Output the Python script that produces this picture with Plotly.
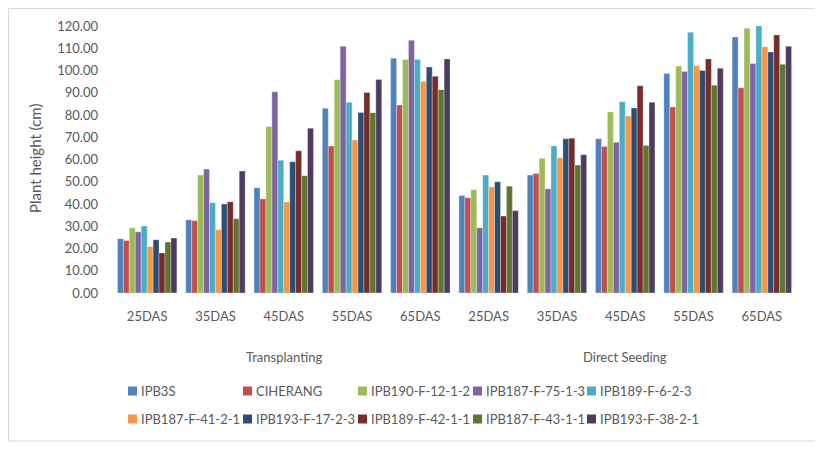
import plotly.graph_objects as go

methods = ["Transplanting", "Direct Seeding"]
days = ["25DAS", "35DAS", "45DAS", "55DAS", "65DAS"]
varieties = ["IPB3S", "CIHERANG", "IPB190-F-12-1-2", "IPB187-F-75-1-3", "IPB189-F-6-2-3",
             "IPB187-F-41-2-1", "IPB193-F-17-2-3", "IPB189-F-42-1-1", "IPB187-F-43-1-1", "IPB193-F-38-2-1"]
colors = ["#4F81BD", "#C0504D", "#9BBB59", "#8064A2", "#4BACC6",
          "#F79646", "#2C4D75", "#772C2A", "#5F7530", "#4D3B62"]

# values: Transplanting 25..65 DAS, then Direct Seeding 25..65 DAS
ipb3s     = [24.4, 32.9, 47.3, 83.0, 105.5, 43.8, 53.0, 69.3, 98.6, 115.1]
ciherang  = [23.6, 32.5, 42.3, 66.1, 84.5, 42.8, 53.7, 65.8, 83.6, 92.2]
ipb190_12 = [29.3, 53.0, 74.8, 95.8, 104.9, 46.4, 60.6, 81.4, 102.0, 119.0]
ipb187_75 = [27.5, 55.7, 90.4, 110.9, 113.6, 29.3, 46.8, 67.8, 99.5, 103.2]
ipb189_6  = [30.1, 40.6, 59.7, 85.7, 105.0, 53.0, 66.1, 85.9, 117.2, 120.0]
ipb187_41 = [20.9, 28.4, 40.9, 68.8, 95.2, 47.7, 60.8, 79.6, 102.3, 110.7]
ipb193_17 = [23.9, 40.0, 59.0, 81.1, 101.6, 50.0, 69.3, 83.2, 100.0, 108.3]
ipb189_42 = [18.0, 41.0, 63.9, 90.1, 97.4, 34.6, 69.6, 93.1, 105.2, 116.0]
ipb187_43 = [22.9, 33.4, 52.7, 81.0, 91.4, 48.0, 57.5, 66.3, 93.4, 102.8]
ipb193_38 = [24.7, 54.8, 74.1, 95.9, 105.2, 37.0, 62.1, 85.7, 101.0, 110.9]
series = [ipb3s, ciherang, ipb190_12, ipb187_75, ipb189_6,
          ipb187_41, ipb193_17, ipb189_42, ipb187_43, ipb193_38]

y_ticks = [0, 10, 20, 30, 40, 50, 60, 70, 80, 90, 100, 110, 120]

cats = [f"{m} {d}" for m in methods for d in days]
tick_text = [d for m in methods for d in days]

FONT = "Lato"
TXT = "#595959"

fig = go.Figure()
for name, vals, col in zip(varieties, series, colors):
    fig.add_trace(go.Bar(
        x=cats, y=vals, name=name, showlegend=False,
        marker=dict(color=col, line=dict(color="rgba(255,255,255,0.6)", width=0.5)),
    ))

# the page offsets the figure by 8px (body margin); layout is given in page pixels
OFF = 8
W, H = 823 - OFF, 451 - OFF
L, R, T = 113 - OFF, 27, 26 - OFF
B = H - (293 - OFF)
pw, ph = W - L - R, H - T - B

def px_x(x):
    return (x - OFF - L) / pw

def px_y(y):
    return (H - B - (y - OFF)) / ph

annotations = [
    dict(text="Plant height (cm)", x=px_x(35), y=px_y(159), xref="paper", yref="paper",
         textangle=-90, showarrow=False, font=dict(family=FONT, size=15, color=TXT),
         xanchor="center", yanchor="middle"),
    dict(text=methods[0], x=cats[2], y=px_y(357), xref="x", yref="paper",
         showarrow=False, font=dict(family=FONT, size=13, color=TXT),
         xanchor="center", yanchor="middle"),
    dict(text=methods[1], x=cats[7], y=px_y(357), xref="x", yref="paper",
         showarrow=False, font=dict(family=FONT, size=13, color=TXT),
         xanchor="center", yanchor="middle"),
]

shapes = [dict(type="rect", xref="paper", yref="paper",
               x0=px_x(8.5), x1=px_x(815.5), y0=px_y(441), y1=px_y(8.5),
               line=dict(color="#D9D9D9", width=1), fillcolor="rgba(0,0,0,0)", layer="below")]

# legend (5 entries per row)
col_x = [128, 243, 358, 473, 587]
row_y = [391, 419]
sq = 9
for i, (name, col) in enumerate(zip(varieties, colors)):
    cx = col_x[i % 5]
    cy = row_y[i // 5]
    shapes.append(dict(type="rect", xref="paper", yref="paper",
                       x0=px_x(cx), x1=px_x(cx + sq), y0=px_y(cy + sq / 2), y1=px_y(cy - sq / 2),
                       line=dict(width=0), fillcolor=col))
    annotations.append(dict(text=name, x=px_x(cx + sq + 2), y=px_y(cy), xref="paper", yref="paper",
                            showarrow=False, xanchor="left", yanchor="middle",
                            font=dict(family=FONT, size=13, color=TXT)))

fig.update_layout(
    width=W, height=H,
    margin=dict(l=L, r=R, t=T, b=B, autoexpand=False),
    paper_bgcolor="white", plot_bgcolor="white",
    barmode="group", bargap=0.13, bargroupgap=0,
    showlegend=False,
    font=dict(family=FONT, size=13, color=TXT),
    xaxis=dict(type="category", tickvals=cats, ticktext=tick_text, showgrid=False,
               showline=False, zeroline=False, ticks="", ticklabelstandoff=14,
               tickfont=dict(family=FONT, size=13, color=TXT)),
    yaxis=dict(range=[0, 120], tickvals=y_ticks, ticktext=[f"{v:.2f}" for v in y_ticks],
               showgrid=False, showline=False, zeroline=False, ticks="",
               ticklabelstandoff=14, tickfont=dict(family=FONT, size=13, color=TXT)),
    annotations=annotations,
    shapes=shapes,
)

fig.write_html("out.html")
